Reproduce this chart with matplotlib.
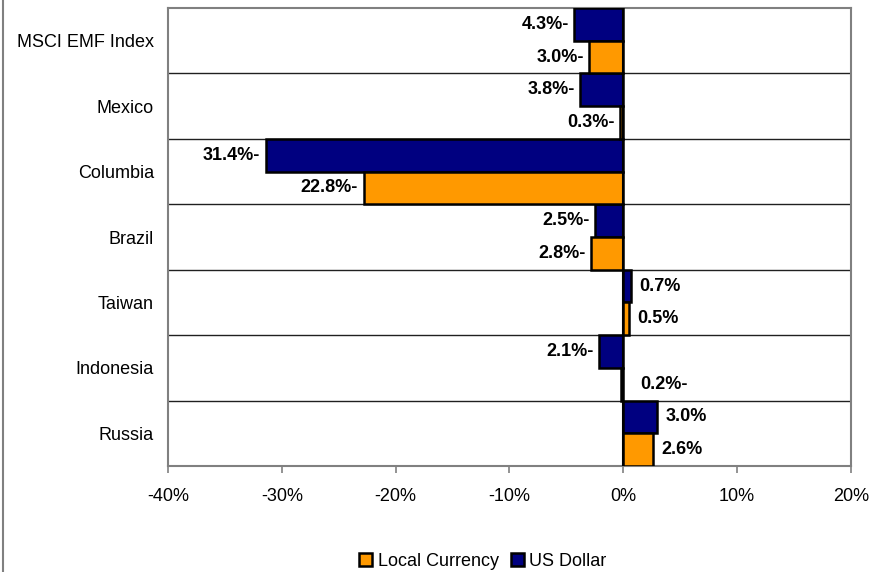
import numpy as np
import matplotlib.pyplot as plt
from matplotlib.lines import Line2D

plt.rcParams['font.family'] = ['Liberation Sans', 'DejaVu Sans']

countries = ['MSCI EMF Index', 'Mexico', 'Columbia', 'Brazil', 'Taiwan', 'Indonesia', 'Russia']
us_dollar = [-4.3, -3.8, -31.4, -2.5, 0.7, -2.1, 3.0]
local_currency = [-3.0, -0.3, -22.8, -2.8, 0.5, -0.2, 2.6]
x_ticks = [-40, -30, -20, -10, 0, 10, 20]

NAVY = '#000080'
ORANGE = '#FF9900'
FS = 13

# labels that sit on the right of the zero line even though the value is negative
label_right = {('Indonesia', 'local')}


def fmt(v):
    return '%.1f%%-' % abs(v) if v < 0 else '%.1f%%' % v


fig = plt.figure(figsize=(8.81, 5.72), dpi=100)
ax = fig.add_axes([168 / 881, 1 - 466 / 572, 683 / 881, 458 / 572])

n = len(countries)
ypos = np.arange(n)[::-1]

ax.barh(ypos + 0.25, us_dollar, height=0.5, color=NAVY, edgecolor='black', linewidth=1.8,
        label='US Dollar', zorder=3)
ax.barh(ypos - 0.25, local_currency, height=0.5, color=ORANGE, edgecolor='black', linewidth=1.8,
        label='Local Currency', zorder=3)

for name, y, usd, loc in zip(countries, ypos, us_dollar, local_currency):
    for key, v, yy in (('usd', usd, y + 0.25), ('local', loc, y - 0.25)):
        right = v >= 0 or (name, key) in label_right
        if right:
            ax.annotate(fmt(v), (max(v, 0), yy), xytext=(6 if v >= 0 else 12, 0),
                        textcoords='offset points', ha='left', va='center',
                        fontsize=FS, fontweight='bold', zorder=4)
        else:
            ax.annotate(fmt(v), (v, yy), xytext=(-4, 0), textcoords='offset points',
                        ha='right', va='center', fontsize=FS, fontweight='bold', zorder=4)

# category separators
for b in np.arange(n - 1) + 0.5:
    ax.axhline(b, color='#202020', linewidth=1.0, zorder=1)
ax.axvline(0, color='black', linewidth=1.5, zorder=5)

ax.set_xlim(-40, 20)
ax.set_ylim(-0.5, n - 0.5)
ax.set_xticks(x_ticks)
ax.set_xticklabels(['%d%%' % t for t in x_ticks], fontsize=FS)
ax.set_yticks(ypos)
ax.set_yticklabels(countries, fontsize=FS)
ax.tick_params(axis='y', length=0, pad=10)
ax.tick_params(axis='x', length=5, width=1.2, color='#808080', pad=11)

for s in ax.spines.values():
    s.set_color('#808080')
    s.set_linewidth(1.5)

handles, labels = ax.get_legend_handles_labels()
fig.legend(handles[::-1], labels[::-1], loc='center', bbox_to_anchor=(483 / 881, 1 - 561 / 572),
           ncol=2, frameon=False, fontsize=FS, handlelength=0.7, handleheight=0.7,
           handletextpad=0.3, columnspacing=0.7, borderpad=0)

# outer chart border on the left
fig.add_artist(Line2D([3 / 881, 3 / 881], [0, 1], transform=fig.transFigure,
                      color='#808080', linewidth=1.5))

fig.savefig('out.png', dpi=100)
